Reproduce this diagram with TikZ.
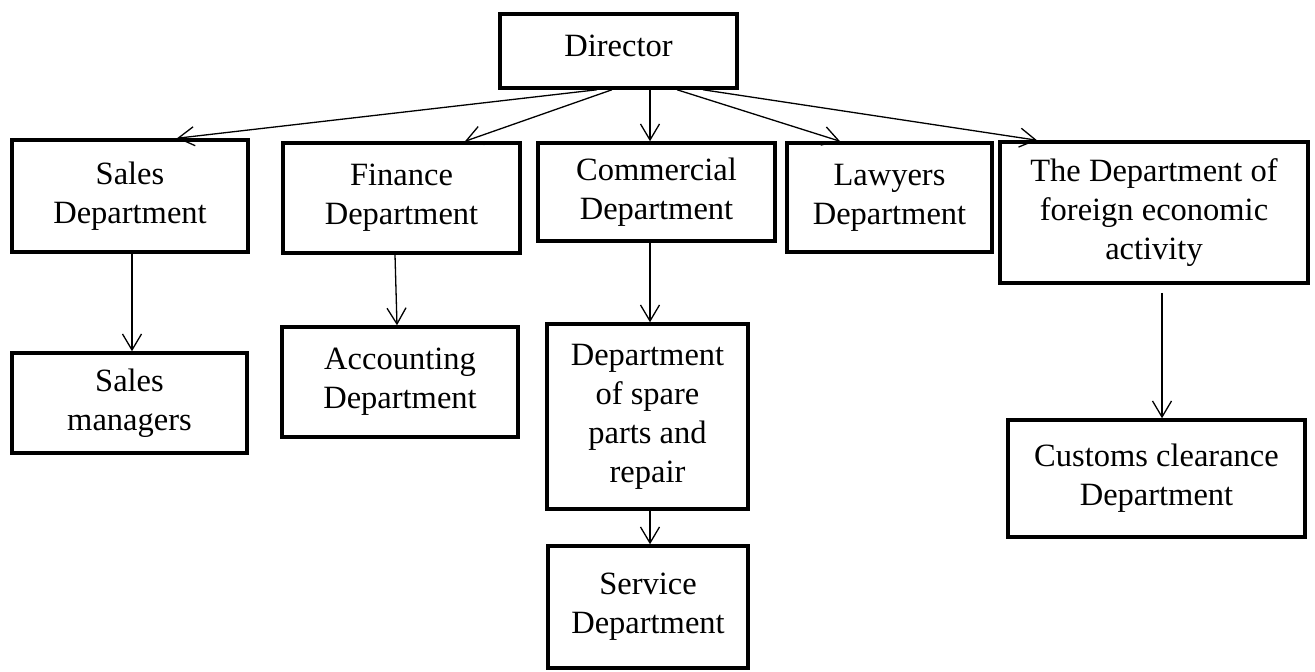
\documentclass[tikz,border=0pt]{standalone}
\usepackage{fontspec}
\setmainfont{Liberation Serif}
\usetikzlibrary{arrows.meta,positioning}

\begin{document}
\begin{tikzpicture}[x=1pt,y=-1pt,
    dept/.style={draw,line width=3.5pt,align=center,inner sep=0pt,
      font=\fontsize{32.5}{39}\selectfont},
    link/.style={line width=1.3pt,-{Straight Barb[length=16pt,width=19pt]}}]
  \useasboundingbox (0,0) rectangle (1315,672);

  \node[dept,minimum width=237pt,minimum height=74pt,text depth=10pt] (dir) at (618.5,51) {Director};

  \node[dept,minimum width=236pt,minimum height=112pt] (sales) at (130,196) {Sales\\Department};
  \node[dept,minimum width=237pt,minimum height=110pt] (fin) at (401.5,198) {Finance\\Department};
  \node[dept,minimum width=237pt,minimum height=98pt] (com) at (656.5,192) {Commercial\\Department};
  \node[dept,minimum width=205pt,minimum height=109pt] (law) at (889.5,197.5) {Lawyers\\Department};
  \node[dept,minimum width=308pt,minimum height=141pt] (fea) at (1154,212.5) {The Department of\\foreign economic\\activity};

  \node[dept,minimum width=235pt,minimum height=100pt] (mgr) at (129.5,403) {Sales\\managers};
  \node[dept,minimum width=236pt,minimum height=110pt] (acc) at (400,382) {Accounting\\Department};
  \node[dept,minimum width=201pt,minimum height=185pt] (spare) at (647.5,416.5) {Department\\of spare\\parts and\\repair};
  \node[dept,minimum width=200pt,minimum height=122pt] (serv) at (648,607) {Service\\Department};
  \node[dept,minimum width=297pt,minimum height=117pt] (cust) at (1156.5,478.5) {Customs clearance\\Department};

  \draw[link] ([xshift=-21.5pt]dir.south) -- ([xshift=47pt]sales.north);
  \draw[link] ([xshift=-6.5pt]dir.south) -- ([xshift=63.5pt]fin.north);
  \draw[link] ([xshift=31.5pt]dir.south) -- ([xshift=-6.5pt]com.north);
  \draw[link] ([xshift=58.5pt]dir.south) -- ([xshift=-49.5pt]law.north);
  \draw[link] ([xshift=84.5pt]dir.south) -- ([xshift=-117pt]fea.north);

  \draw[link] ([xshift=2pt]sales.south) -- ([xshift=2.5pt]mgr.north);
  \draw[link] ([xshift=-6.5pt]fin.south) -- ([xshift=-3pt]acc.north);
  \draw[link] ([xshift=-6.5pt]com.south) -- ([xshift=2.5pt]spare.north);
  \draw[link] ([xshift=2.5pt]spare.south) -- ([xshift=2pt]serv.north);
  \draw[link,shorten <=8pt] ([xshift=8pt]fea.south) -- ([xshift=5.5pt]cust.north);
\end{tikzpicture}
\end{document}
